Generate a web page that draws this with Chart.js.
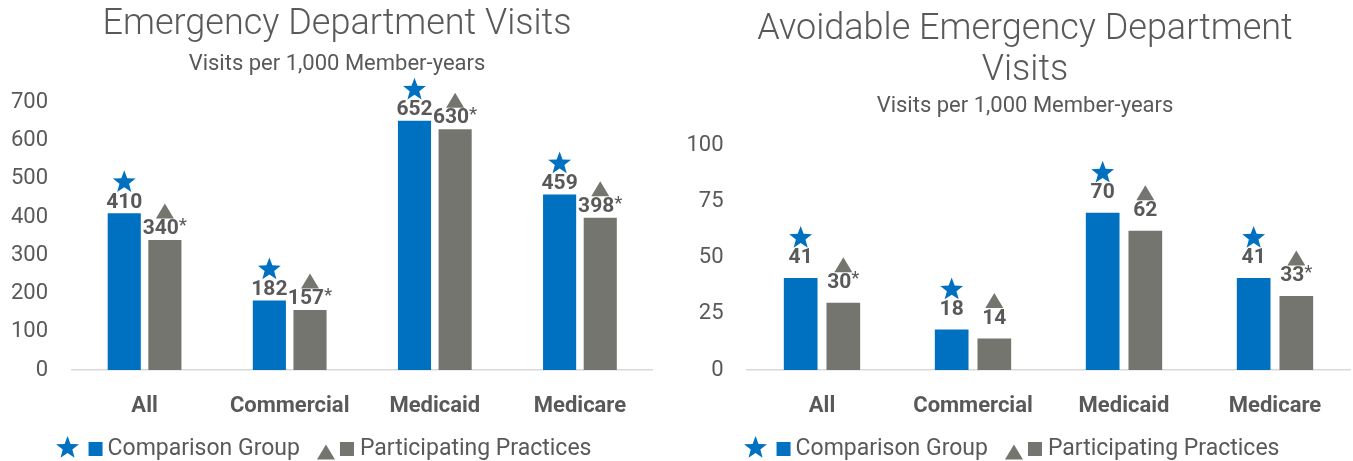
<!DOCTYPE html>
<html>
<head>
<meta charset="utf-8">
<script src="https://cdn.jsdelivr.net/npm/chart.js@4.4.1/dist/chart.umd.min.js"></script>
<style>
  html, body { margin: 0; padding: 0; background: #fff; overflow: hidden; }
  .wrap { position: absolute; top: 0; height: 461px; }
  #left { left: 0; width: 674px; }
  #right { left: 680px; width: 690px; }
</style>
</head>
<body>
<div class="wrap" id="left"><canvas id="ed-chart"></canvas></div>
<div class="wrap" id="right"><canvas id="avoid-chart"></canvas></div>
<script>
// Chart data
const categories = ['All', 'Commercial', 'Medicaid', 'Medicare'];
const seriesNames = ['Comparison Group', 'Participating Practices'];

const edComparison = [410, 182, 652, 459];
const edParticipating = [340, 157, 630, 398];
const edStarred = [true, true, true, true];   // "*" after participating value

const avoidComparison = [41, 18, 70, 41];
const avoidParticipating = [30, 14, 62, 33];
const avoidStarred = [true, false, false, true];

const edTicks = { max: 700, step: 100 };
const avoidTicks = { max: 100, step: 25 };

const BLUE = '#0070C0';
const GRAY = '#75756F';
const TEXT = '#595959';
const FONT = 'Roboto, "DejaVu Sans", sans-serif';

function drawStar(ctx, cx, cy, r) {
    ctx.beginPath();
    for (let i = 0; i < 10; i++) {
        const rad = i % 2 === 0 ? r : r * 0.42;
        const a = -Math.PI / 2 + i * Math.PI / 5;
        const x = cx + rad * Math.cos(a), y = cy + rad * Math.sin(a);
        if (i === 0) ctx.moveTo(x, y); else ctx.lineTo(x, y);
    }
    ctx.closePath();
    ctx.fillStyle = BLUE;
    ctx.fill();
}

function drawTriangle(ctx, cx, cy, w, h) {
    ctx.beginPath();
    ctx.moveTo(cx, cy - h / 2);
    ctx.lineTo(cx + w / 2, cy + h / 2);
    ctx.lineTo(cx - w / 2, cy + h / 2);
    ctx.closePath();
    ctx.fillStyle = GRAY;
    ctx.fill();
}

// Value labels + star / triangle markers above bars
const markerPlugin = {
    id: 'markers',
    afterDatasetsDraw(chart, args, opts) {
        const ctx = chart.ctx;
        ctx.save();
        ctx.textAlign = 'left';
        ctx.textBaseline = 'middle';
        chart.data.datasets.forEach((ds, di) => {
            chart.getDatasetMeta(di).data.forEach((bar, i) => {
                const num = String(ds.data[i]);
                const star = di === 1 && opts.starred[i] ? '*' : '';
                ctx.font = 'bold 21px ' + FONT;
                const wNum = ctx.measureText(num).width;
                ctx.font = '19px ' + FONT;
                const wStar = star ? ctx.measureText(star).width : 0;
                const x0 = bar.x - (wNum + wStar) / 2;
                const ly = bar.y - opts.labelOffset;
                ctx.fillStyle = TEXT;
                ctx.font = 'bold 21px ' + FONT;
                ctx.fillText(num, x0, ly);
                if (star) {
                    ctx.font = '19px ' + FONT;
                    ctx.fillText(star, x0 + wNum, ly - 3);
                }
                if (di === 0) drawStar(ctx, bar.x, ly - 20, 12);
                else drawTriangle(ctx, bar.x, ly - 18, 18, 15);
            });
        });
        ctx.restore();
    }
};

// Custom legend with marker + swatch per series
const legendPlugin = {
    id: 'customLegend',
    afterDraw(chart) {
        const ctx = chart.ctx;
        const y = 449;
        ctx.save();
        ctx.font = '23px ' + FONT;
        ctx.textBaseline = 'middle';
        const w0 = ctx.measureText(seriesNames[0]).width;
        const w1 = ctx.measureText(seriesNames[1]).width;
        const total = 24 + 9 + 14 + 5 + w0 + 17 + 18 + 5 + 14 + 6 + w1;
        let x = chart.width / 2 - 13.5 - total / 2;
        drawStar(ctx, x + 12, y - 1, 12);
        x += 24 + 9;
        ctx.fillStyle = BLUE;
        ctx.fillRect(x, y - 7, 14, 14);
        x += 14 + 5;
        ctx.fillStyle = TEXT;
        ctx.fillText(seriesNames[0], x, y);
        x += w0 + 17;
        drawTriangle(ctx, x + 9, y + 3, 18, 15);
        x += 18 + 5;
        ctx.fillStyle = GRAY;
        ctx.fillRect(x, y - 7, 14, 14);
        x += 14 + 6;
        ctx.fillStyle = TEXT;
        ctx.fillText(seriesNames[1], x, y);
        ctx.restore();
    }
};

function createChart(canvasId, cfg) {
    const ctx = document.getElementById(canvasId).getContext('2d');
    return new Chart(ctx, {
        type: 'bar',
        data: {
            labels: categories,
            datasets: [
                { label: seriesNames[0], data: cfg.comparison, backgroundColor: BLUE,
                  categoryPercentage: cfg.catPct, barPercentage: cfg.barPct },
                { label: seriesNames[1], data: cfg.participating, backgroundColor: GRAY,
                  categoryPercentage: cfg.catPct, barPercentage: cfg.barPct }
            ]
        },
        options: {
            responsive: true,
            maintainAspectRatio: false,
            animation: false,
            events: [],
            layout: { padding: { top: 0, right: 0, bottom: 41, left: 0 } },
            scales: {
                x: {
                    grid: { display: false, drawTicks: false },
                    border: { display: true, color: '#D9D9D9', width: 1.5 },
                    ticks: { color: TEXT, padding: 23, font: { family: FONT, size: 22, weight: 'bold' } },
                    afterFit: scale => { scale.height = 50; }
                },
                y: {
                    min: 0,
                    max: cfg.ticks.max,
                    grid: { display: false, drawTicks: false },
                    border: { display: false },
                    ticks: { stepSize: cfg.ticks.step, color: TEXT, padding: cfg.tickPad,
                             font: { family: FONT, size: 22 } },
                    afterFit: scale => { scale.width = cfg.axisWidth; }
                },
                // empty spacer on the right so the title centres like the original
                spacer: {
                    type: 'linear',
                    position: 'right',
                    grid: { display: false, drawTicks: false },
                    border: { display: false },
                    ticks: { display: false },
                    afterFit: scale => { scale.width = cfg.spacer; }
                }
            },
            plugins: {
                legend: { display: false },
                tooltip: { enabled: false },
                title: {
                    display: true,
                    text: cfg.title,
                    color: TEXT,
                    font: { family: FONT, size: 36, weight: 300, lineHeight: 1.14 },
                    padding: cfg.titlePad
                },
                subtitle: {
                    display: true,
                    text: 'Visits per 1,000 Member-years',
                    color: TEXT,
                    font: { family: FONT, size: 22, lineHeight: 1.2 },
                    padding: cfg.subPad
                },
                markers: { starred: cfg.starred, labelOffset: cfg.labelOffset }
            }
        },
        plugins: [markerPlugin, legendPlugin]
    });
}

createChart('ed-chart', {
    title: 'Emergency Department Visits',
    comparison: edComparison,
    participating: edParticipating,
    starred: edStarred,
    ticks: edTicks,
    axisWidth: 72,
    tickPad: 24,
    spacer: 21.5,
    catPct: 0.56,
    barPct: 0.815,
    labelOffset: 11,
    titlePad: { top: 4, bottom: 3 },
    subPad: { top: 3, bottom: 25 }
});

createChart('avoid-chart', {
    title: ['Avoidable Emergency Department', 'Visits'],
    comparison: avoidComparison,
    participating: avoidParticipating,
    starred: avoidStarred,
    ticks: avoidTicks,
    axisWidth: 66.5,
    tickPad: 23,
    spacer: 19.5,
    catPct: 0.565,
    barPct: 0.79,
    labelOffset: 20,
    titlePad: { top: 9, bottom: 1 },
    subPad: { top: 1, bottom: 26 }
});
</script>
</body>
</html>
